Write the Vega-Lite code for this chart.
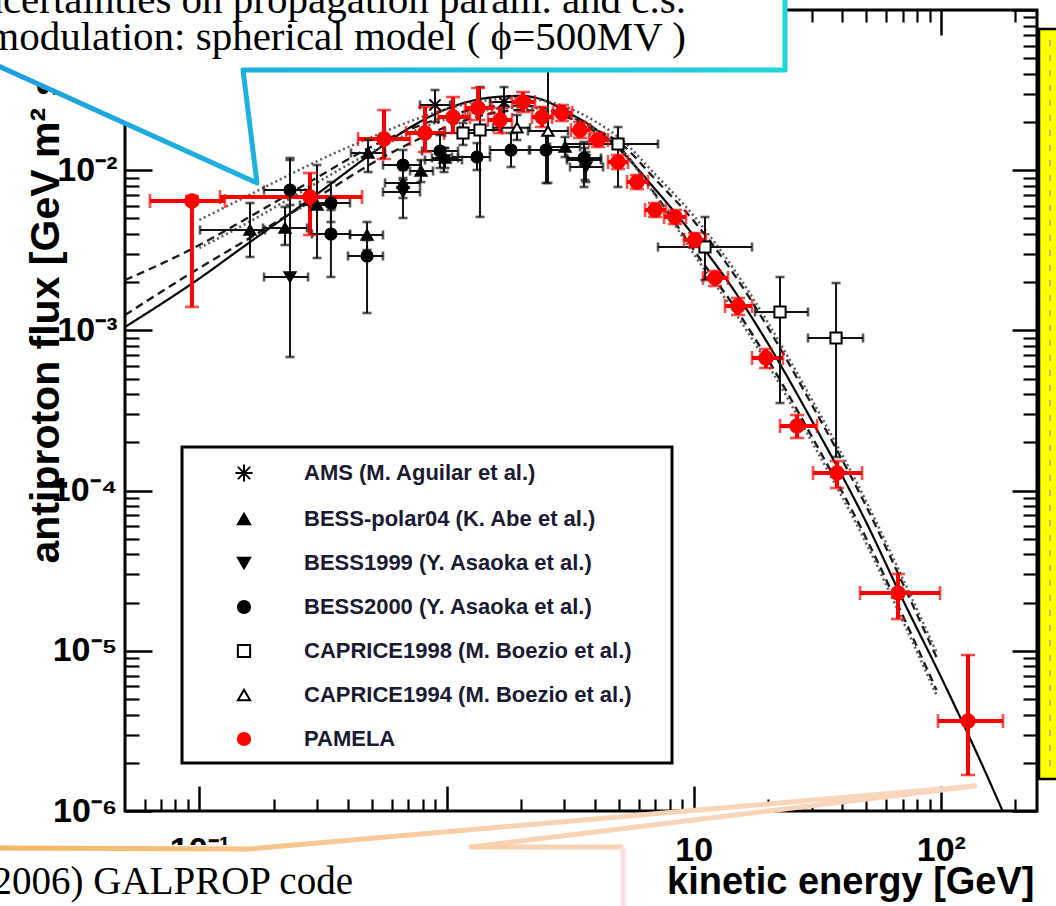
{
  "$schema": "https://vega.github.io/schema/vega-lite/v6.json",
  "width": 912,
  "height": 801,
  "autosize": {"type": "none"},
  "padding": {"left": 125, "top": 10, "right": 19, "bottom": 95},
  "background": "#ffffff",
  "config": {
    "view": {"stroke": "#000000", "strokeWidth": 3},
    "font": "Liberation Sans",
    "axis": {"domain": false, "grid": false, "tickColor": "#000000", "tickWidth": 2.2, "labelColor": "#000000", "titleColor": "#000000"},
    "legend": {"padding": 16, "rowPadding": 22, "symbolOffset": 35, "labelOffset": 49, "labelFont": "Liberation Sans", "labelFontWeight": "bold", "labelFontSize": 22, "labelColor": "#1a1a33", "labelLimit": 600, "symbolSize": 150, "symbolStrokeWidth": 2}
  },
  "datasets": {
    "pts": [
      {"s": "BESS-polar04 (K. Abe et al.)", "e": 0.1602, "elo": 0.1006, "ehi": 0.1843, "f": 0.004233, "flo": 0.002872, "fhi": 0.006241},
      {"s": "BESS-polar04 (K. Abe et al.)", "e": 0.222, "elo": 0.1809, "ehi": 0.2726, "f": 0.004357, "flo": 0.003413, "fhi": 0.005893},
      {"s": "BESS-polar04 (K. Abe et al.)", "e": 0.2991, "elo": 0.2554, "ehi": 0.3537, "f": 0.006065, "flo": 0.002831, "fhi": 0.01078},
      {"s": "BESS-polar04 (K. Abe et al.)", "e": 0.4768, "elo": 0.4068, "ehi": 0.5532, "f": 0.00394, "flo": 0.003176, "fhi": 0.00475},
      {"s": "BESS-polar04 (K. Abe et al.)", "e": 0.4813, "elo": 0.4107, "ehi": 0.5636, "f": 0.01281, "flo": 0.00974, "fhi": 0.01543},
      {"s": "BESS-polar04 (K. Abe et al.)", "e": 0.6667, "elo": 0.5636, "ehi": 0.781, "f": 0.00832, "flo": 0.006706, "fhi": 0.01003},
      {"s": "BESS-polar04 (K. Abe et al.)", "e": 0.7882, "elo": 0.7115, "ehi": 0.8816, "f": 0.009886, "flo": 0.00844, "fhi": 0.01158},
      {"s": "BESS-polar04 (K. Abe et al.)", "e": 0.9858, "elo": 0.8733, "ehi": 1.113, "f": 0.01192, "flo": 0.01032, "fhi": 0.01376},
      {"s": "BESS-polar04 (K. Abe et al.)", "e": 3.016, "elo": 2.623, "ehi": 3.468, "f": 0.01396, "flo": 0.01209, "fhi": 0.01611},
      {"s": "BESS1999 (Y. Asaoka et al.)", "e": 0.2326, "elo": 0.1826, "ehi": 0.2752, "f": 0.002154, "flo": 0.0006823, "fhi": 0.01192},
      {"s": "BESS1999 (Y. Asaoka et al.)", "e": 0.6667, "elo": 0.5532, "ehi": 0.781, "f": 0.00731, "flo": 0.00503, "fhi": 0.00894},
      {"s": "BESS1999 (Y. Asaoka et al.)", "e": 0.9768, "elo": 0.818, "ehi": 1.155, "f": 0.01158, "flo": 0.00974, "fhi": 0.01376},
      {"s": "BESS1999 (Y. Asaoka et al.)", "e": 3.667, "elo": 3.159, "ehi": 4.297, "f": 0.01047, "flo": 0.00844, "fhi": 0.01299},
      {"s": "BESS2000 (Y. Asaoka et al.)", "e": 0.2326, "elo": 0.1826, "ehi": 0.2777, "f": 0.00752, "flo": 0.006065, "fhi": 0.01158},
      {"s": "BESS2000 (Y. Asaoka et al.)", "e": 0.3406, "elo": 0.2777, "ehi": 0.4068, "f": 0.006241, "flo": 0.00475, "fhi": 0.00844},
      {"s": "BESS2000 (Y. Asaoka et al.)", "e": 0.3406, "elo": 0.2856, "ehi": 0.4068, "f": 0.003997, "flo": 0.002154, "fhi": 0.005644},
      {"s": "BESS2000 (Y. Asaoka et al.)", "e": 0.4768, "elo": 0.3993, "ehi": 0.5532, "f": 0.002913, "flo": 0.001284, "fhi": 0.003666},
      {"s": "BESS2000 (Y. Asaoka et al.)", "e": 0.6667, "elo": 0.5532, "ehi": 0.781, "f": 0.01078, "flo": 0.008687, "fhi": 0.01337},
      {"s": "BESS2000 (Y. Asaoka et al.)", "e": 0.941, "elo": 0.796, "ehi": 1.113, "f": 0.01318, "flo": 0.01032, "fhi": 0.01658},
      {"s": "BESS2000 (Y. Asaoka et al.)", "e": 1.328, "elo": 1.052, "ehi": 1.499, "f": 0.01209, "flo": 0.01003, "fhi": 0.01478},
      {"s": "BESS2000 (Y. Asaoka et al.)", "e": 1.823, "elo": 1.499, "ehi": 2.157, "f": 0.01337, "flo": 0.01047, "fhi": 0.01707},
      {"s": "BESS2000 (Y. Asaoka et al.)", "e": 2.526, "elo": 2.177, "ehi": 3.016, "f": 0.01337, "flo": 0.00832, "fhi": 0.01658},
      {"s": "BESS2000 (Y. Asaoka et al.)", "e": 3.6, "elo": 3.073, "ehi": 4.217, "f": 0.01192, "flo": 0.007855, "fhi": 0.015},
      {"s": "CAPRICE1994 (M. Boezio et al.)", "e": 2.573, "elo": 2.136, "ehi": 3.101, "f": 0.01757, "flo": 0.00832, "fhi": 0.04736},
      {"s": "CAPRICE1994 (M. Boezio et al.)", "e": 1.928, "elo": 1.542, "ehi": 2.177, "f": 0.01844, "flo": 0.01543, "fhi": 0.02211},
      {"s": "AMS (M. Aguilar et al.)", "e": 0.8984, "elo": 0.781, "ehi": 1.033, "f": 0.02553, "flo": 0.01999, "fhi": 0.03167},
      {"s": "AMS (M. Aguilar et al.)", "e": 1.708, "elo": 1.499, "ehi": 1.983, "f": 0.02665, "flo": 0.02058, "fhi": 0.03306},
      {"s": "AMS (M. Aguilar et al.)", "e": 3.633, "elo": 3.073, "ehi": 4.217, "f": 0.01158, "flo": 0.008687, "fhi": 0.01376},
      {"s": "CAPRICE1998 (M. Boezio et al.)", "e": 1.166, "elo": 0.9858, "ehi": 1.366, "f": 0.01707, "flo": 0.01437, "fhi": 0.01971},
      {"s": "CAPRICE1998 (M. Boezio et al.)", "e": 1.366, "elo": 1.134, "ehi": 1.677, "f": 0.01782, "flo": 0.005104, "fhi": 0.03306},
      {"s": "CAPRICE1998 (M. Boezio et al.)", "e": 4.941, "elo": 3.016, "ehi": 7.173, "f": 0.01457, "flo": 0.007855, "fhi": 0.01861},
      {"s": "CAPRICE1998 (M. Boezio et al.)", "e": 11.11, "elo": 7.173, "ehi": 17.22, "f": 0.003316, "flo": 0.002063, "fhi": 0.005104},
      {"s": "CAPRICE1998 (M. Boezio et al.)", "e": 22.35, "elo": 17.71, "ehi": 29.01, "f": 0.001303, "flo": 0.0003522, "fhi": 0.002154},
      {"s": "CAPRICE1998 (M. Boezio et al.)", "e": 37.67, "elo": 29.01, "ehi": 48.44, "f": 0.0008965, "flo": 0.0001621, "fhi": 0.001976},
      {"s": "PAMELA", "e": 0.0933, "elo": 0.0631, "ehi": 0.1269, "f": 0.00642, "flo": 0.0014, "fhi": 0.0069},
      {"s": "PAMELA", "e": 0.2803, "elo": 0.1212, "ehi": 0.455, "f": 0.0068, "flo": 0.00394, "fhi": 0.00961},
      {"s": "PAMELA", "e": 0.5585, "elo": 0.4384, "ehi": 0.7115, "f": 0.01566, "flo": 0.01175, "fhi": 0.02375},
      {"s": "PAMELA", "e": 0.818, "elo": 0.6855, "ehi": 0.977, "f": 0.01707, "flo": 0.01299, "fhi": 0.02481},
      {"s": "PAMELA", "e": 1.062, "elo": 0.9236, "ehi": 1.245, "f": 0.02148, "flo": 0.01707, "fhi": 0.02863},
      {"s": "PAMELA", "e": 1.341, "elo": 1.188, "ehi": 1.528, "f": 0.02445, "flo": 0.02058, "fhi": 0.03259},
      {"s": "PAMELA", "e": 1.646, "elo": 1.472, "ehi": 1.84, "f": 0.02058, "flo": 0.01707, "fhi": 0.02445},
      {"s": "PAMELA", "e": 2.039, "elo": 1.84, "ehi": 2.28, "f": 0.02665, "flo": 0.02308, "fhi": 0.03077},
      {"s": "PAMELA", "e": 2.434, "elo": 2.217, "ehi": 2.672, "f": 0.02148, "flo": 0.01861, "fhi": 0.02481},
      {"s": "PAMELA", "e": 2.933, "elo": 2.697, "ehi": 3.219, "f": 0.02275, "flo": 0.02028, "fhi": 0.02553},
      {"s": "PAMELA", "e": 3.468, "elo": 3.189, "ehi": 3.806, "f": 0.01782, "flo": 0.01589, "fhi": 0.01999},
      {"s": "PAMELA", "e": 4.102, "elo": 3.771, "ehi": 4.502, "f": 0.01543, "flo": 0.01396, "fhi": 0.01707},
      {"s": "PAMELA", "e": 4.941, "elo": 4.502, "ehi": 5.424, "f": 0.01125, "flo": 0.01017, "fhi": 0.01244},
      {"s": "PAMELA", "e": 5.898, "elo": 5.373, "ehi": 6.535, "f": 0.00844, "flo": 0.00763, "fhi": 0.00933},
      {"s": "PAMELA", "e": 6.975, "elo": 6.355, "ehi": 7.727, "f": 0.005644, "flo": 0.005104, "fhi": 0.006241},
      {"s": "PAMELA", "e": 8.404, "elo": 7.586, "ehi": 9.311, "f": 0.005104, "flo": 0.004615, "fhi": 0.005644},
      {"s": "PAMELA", "e": 10.12, "elo": 9.14, "ehi": 11.22, "f": 0.003666, "flo": 0.003316, "fhi": 0.004055},
      {"s": "PAMELA", "e": 12.2, "elo": 10.91, "ehi": 13.77, "f": 0.002126, "flo": 0.001893, "fhi": 0.002349},
      {"s": "PAMELA", "e": 15.12, "elo": 13.39, "ehi": 17.22, "f": 0.00142, "flo": 0.001248, "fhi": 0.001593},
      {"s": "PAMELA", "e": 19.62, "elo": 17.22, "ehi": 22.99, "f": 0.0006725, "flo": 0.0005825, "fhi": 0.0007655},
      {"s": "PAMELA", "e": 26.19, "elo": 22.35, "ehi": 31.55, "f": 0.000253, "flo": 0.000213, "fhi": 0.0002964},
      {"s": "PAMELA", "e": 38.02, "elo": 30.4, "ehi": 47.99, "f": 0.0001288, "flo": 0.0001038, "fhi": 0.000153},
      {"s": "PAMELA", "e": 67.11, "elo": 47.1, "ehi": 99.24, "f": 0.00002295, "flo": 0.00001579, "fhi": 0.00003016},
      {"s": "PAMELA", "e": 128.8, "elo": 97.41, "ehi": 178.5, "f": 0.000003645, "flo": 0.000001678, "fhi": 0.00000941}
    ],
    "curves": [
      {"c": "solid", "e": 0.05, "f": 0.00105}, {"c": "solid", "e": 0.1, "f": 0.00211}, {"c": "solid", "e": 0.15, "f": 0.00331}, {"c": "solid", "e": 0.2, "f": 0.00454}, {"c": "solid", "e": 0.3, "f": 0.00712}, {"c": "solid", "e": 0.5, "f": 0.01277}, {"c": "solid", "e": 0.7, "f": 0.01818}, {"c": "solid", "e": 1, "f": 0.0241}, {"c": "solid", "e": 1.5, "f": 0.0284}, {"c": "solid", "e": 2, "f": 0.0291}, {"c": "solid", "e": 2.5, "f": 0.0272}, {"c": "solid", "e": 3, "f": 0.0235}, {"c": "solid", "e": 4, "f": 0.0181}, {"c": "solid", "e": 5, "f": 0.0135}, {"c": "solid", "e": 7, "f": 0.00758}, {"c": "solid", "e": 10, "f": 0.0039}, {"c": "solid", "e": 15, "f": 0.001663}, {"c": "solid", "e": 20, "f": 0.000825}, {"c": "solid", "e": 30, "f": 0.000275}, {"c": "solid", "e": 50, "f": 0.000063}, {"c": "solid", "e": 70, "f": 0.000021}, {"c": "solid", "e": 100, "f": 0.0000069}, {"c": "solid", "e": 150, "f": 0.00000181}, {"c": "solid", "e": 200, "f": 0.000000659},
      {"c": "dash1", "e": 0.05, "f": 0.00206}, {"c": "dash1", "e": 0.1, "f": 0.00341}, {"c": "dash1", "e": 0.15, "f": 0.00484}, {"c": "dash1", "e": 0.2, "f": 0.00625}, {"c": "dash1", "e": 0.3, "f": 0.00902}, {"c": "dash1", "e": 0.5, "f": 0.0141}, {"c": "dash1", "e": 0.7, "f": 0.01785}, {"c": "dash1", "e": 1, "f": 0.0217}, {"c": "dash1", "e": 1.5, "f": 0.0249}, {"c": "dash1", "e": 2, "f": 0.0253}, {"c": "dash1", "e": 2.5, "f": 0.0243}, {"c": "dash1", "e": 3, "f": 0.0224}, {"c": "dash1", "e": 4, "f": 0.018}, {"c": "dash1", "e": 5, "f": 0.0149}, {"c": "dash1", "e": 7, "f": 0.00875}, {"c": "dash1", "e": 10, "f": 0.00483}, {"c": "dash1", "e": 15, "f": 0.002094}, {"c": "dash1", "e": 20, "f": 0.001038}, {"c": "dash1", "e": 30, "f": 0.000346}, {"c": "dash1", "e": 50, "f": 0.0000793}, {"c": "dash1", "e": 70, "f": 0.00002646}, {"c": "dash1", "e": 96, "f": 0.00000915},
      {"c": "dash2", "e": 0.05, "f": 0.001248}, {"c": "dash2", "e": 0.1, "f": 0.002452}, {"c": "dash2", "e": 0.15, "f": 0.003558}, {"c": "dash2", "e": 0.2, "f": 0.004648}, {"c": "dash2", "e": 0.3, "f": 0.006773}, {"c": "dash2", "e": 0.5, "f": 0.01104}, {"c": "dash2", "e": 0.7, "f": 0.01455}, {"c": "dash2", "e": 1, "f": 0.01863}, {"c": "dash2", "e": 1.5, "f": 0.02259}, {"c": "dash2", "e": 2, "f": 0.02375}, {"c": "dash2", "e": 2.5, "f": 0.02331}, {"c": "dash2", "e": 3, "f": 0.0217}, {"c": "dash2", "e": 4, "f": 0.01744}, {"c": "dash2", "e": 5, "f": 0.01386}, {"c": "dash2", "e": 7, "f": 0.007052}, {"c": "dash2", "e": 10, "f": 0.003185}, {"c": "dash2", "e": 15, "f": 0.001322}, {"c": "dash2", "e": 20, "f": 0.0006554}, {"c": "dash2", "e": 30, "f": 0.0002186}, {"c": "dash2", "e": 50, "f": 0.0000501}, {"c": "dash2", "e": 70, "f": 0.0000167}, {"c": "dash2", "e": 96, "f": 0.000005692},
      {"c": "dot1", "e": 0.1, "f": 0.004888}, {"c": "dot1", "e": 0.15, "f": 0.006695}, {"c": "dot1", "e": 0.2, "f": 0.008368}, {"c": "dot1", "e": 0.3, "f": 0.0114}, {"c": "dot1", "e": 0.5, "f": 0.01614}, {"c": "dot1", "e": 0.7, "f": 0.01996}, {"c": "dot1", "e": 1, "f": 0.02403}, {"c": "dot1", "e": 1.5, "f": 0.0275}, {"c": "dot1", "e": 2, "f": 0.02819}, {"c": "dot1", "e": 2.5, "f": 0.02707}, {"c": "dot1", "e": 3, "f": 0.02505}, {"c": "dot1", "e": 4, "f": 0.02014}, {"c": "dot1", "e": 5, "f": 0.01593}, {"c": "dot1", "e": 7, "f": 0.0094}, {"c": "dot1", "e": 10, "f": 0.005193}, {"c": "dot1", "e": 15, "f": 0.002249}, {"c": "dot1", "e": 20, "f": 0.001115}, {"c": "dot1", "e": 30, "f": 0.000372}, {"c": "dot1", "e": 50, "f": 0.0000852}, {"c": "dot1", "e": 70, "f": 0.00002843}, {"c": "dot1", "e": 96, "f": 0.00000983},
      {"c": "dot2", "e": 0.1, "f": 0.003268}, {"c": "dot2", "e": 0.15, "f": 0.00453}, {"c": "dot2", "e": 0.2, "f": 0.005817}, {"c": "dot2", "e": 0.3, "f": 0.00838}, {"c": "dot2", "e": 0.5, "f": 0.01306}, {"c": "dot2", "e": 0.7, "f": 0.0169}, {"c": "dot2", "e": 1, "f": 0.02082}, {"c": "dot2", "e": 1.5, "f": 0.02389}, {"c": "dot2", "e": 2, "f": 0.0247}, {"c": "dot2", "e": 2.5, "f": 0.02399}, {"c": "dot2", "e": 3, "f": 0.0223}, {"c": "dot2", "e": 4, "f": 0.01792}, {"c": "dot2", "e": 5, "f": 0.0138}, {"c": "dot2", "e": 7, "f": 0.00695}, {"c": "dot2", "e": 10, "f": 0.003007}, {"c": "dot2", "e": 15, "f": 0.00123}, {"c": "dot2", "e": 20, "f": 0.0006099}, {"c": "dot2", "e": 30, "f": 0.0002034}, {"c": "dot2", "e": 50, "f": 0.00004661}, {"c": "dot2", "e": 70, "f": 0.00001554}, {"c": "dot2", "e": 96, "f": 0.0000053}
    ],
    "tri": [
      {"g": "t", "e": 0.0167, "f": 0.042203, "f2": 0.042203},
      {"g": "t", "e": 0.15012, "f": 0.042203, "f2": 0.0091127},
      {"g": "t", "e": 0.17105, "f": 0.0083213, "f2": 0.0083213},
      {"g": "b", "e": 0.15876, "f": 0.00000057912, "f2": 0.00000057912},
      {"g": "b", "e": 1.2561, "f": 0.00000076432, "f2": 0.00000059599},
      {"g": "b", "e": 137.48, "f": 0.0000014324, "f2": 0.0000014324}
    ],
    "cyan": [
      {"i": 0, "e": 0.014214, "f": 0.047222},
      {"i": 1, "e": 0.17105, "f": 0.0083213},
      {"i": 2, "e": 0.15012, "f": 0.042203},
      {"i": 3, "e": 23.418, "f": 0.042203},
      {"i": 4, "e": 23.418, "f": 0.13333}
    ],
    "orange": [
      {"i": 0, "e": 0.01489, "f": 0.00000058749},
      {"i": 1, "e": 0.15876, "f": 0.00000057912},
      {"i": 2, "e": 137.48, "f": 0.0000014324},
      {"i": 3, "e": 1.2561, "f": 0.00000059599},
      {"i": 4, "e": 5.1764, "f": 0.00000059599}
    ],
    "notes": [
      {"t": "uncertainties on propagation param. and c.s.", "e": 9.3097, "f": 0.09578},
      {"t": "modulation: spherical model ( ϕ=500MV )", "e": 9.3097, "f": 0.056275}
    ]
  },
  "resolve": {"axis": {"x": "independent", "y": "independent"}},
  "layer": [
    {
      "data": {"name": "curves"},
      "mark": {"type": "line", "clip": true, "interpolate": "monotone"},
      "encoding": {
        "x": {"field": "e", "type": "quantitative", "scale": {"type": "log", "domain": [0.05, 245], "nice": false},
          "axis": {"orient": "bottom", "values": [0.1, 1, 10, 100], "ticks": false, "labelExpr": "datum.value < 0.5 ? '10⁻¹' : datum.value < 5 ? '1' : datum.value < 50 ? '10' : '10²'", "labelFont": "Liberation Sans", "labelFontWeight": "bold", "labelFontSize": 34, "labelPadding": 22, "labelFlush": false, "labelOverlap": false, "labelBound": false,
            "title": "kinetic energy [GeV]", "titleFont": "Liberation Sans", "titleFontWeight": "bold", "titleFontSize": 38, "titleAnchor": "end", "titleAlign": "right", "titleBaseline": "alphabetic", "titleX": 909, "titleY": 82}},
        "y": {"field": "f", "type": "quantitative", "scale": {"type": "log", "domain": [0.000001, 0.1], "nice": false},
          "axis": {"orient": "left", "values": [0.000001, 0.00001, 0.0001, 0.001, 0.01], "ticks": false, "labelExpr": "datum.value < 5e-6 ? '10⁻⁶' : datum.value < 5e-5 ? '10⁻⁵' : datum.value < 5e-4 ? '10⁻⁴' : datum.value < 5e-3 ? '10⁻³' : '10⁻²'", "labelFont": "Liberation Sans", "labelFontWeight": "bold", "labelFontSize": 34, "labelPadding": 8, "labelOverlap": false, "labelBound": false,
            "title": "antiproton flux [GeV m² s sr]⁻¹", "titleFont": "Liberation Sans", "titleFontWeight": "bold", "titleFontSize": 41, "titleAngle": 270, "titleAlign": "left", "titleBaseline": "alphabetic", "titleX": -67, "titleY": 553}},
        "detail": {"field": "c"},
        "color": {"field": "c", "type": "nominal", "scale": {"domain": ["solid", "dash1", "dash2", "dot1", "dot2"], "range": ["#000000", "#1a1a1a", "#1a1a1a", "#5a5a5a", "#5a5a5a"]}, "legend": null},
        "strokeDash": {"field": "c", "type": "nominal", "scale": {"domain": ["solid", "dash1", "dash2", "dot1", "dot2"], "range": [[1, 0], [8, 5], [8, 5], [2, 3], [2, 3]]}, "legend": null},
        "strokeWidth": {"field": "c", "type": "nominal", "scale": {"domain": ["solid", "dash1", "dash2", "dot1", "dot2"], "range": [2.2, 2.6, 2.6, 2.6, 2.6]}, "legend": null}
      }
    },
    {
      "data": {"name": "pts"},
      "mark": {"type": "rule"},
      "encoding": {
        "x": {"field": "elo", "type": "quantitative", "scale": {"type": "log", "domain": [0.05, 245], "nice": false},
          "axis": {"orient": "bottom", "values": [0.1, 1, 10, 100], "labels": false, "tickSize": -25, "tickWidth": 2.5, "title": null}},
        "x2": {"field": "ehi"},
        "y": {"field": "f", "type": "quantitative", "scale": {"type": "log", "domain": [0.000001, 0.1], "nice": false},
          "axis": {"orient": "left", "values": [0.000001, 0.00001, 0.0001, 0.001, 0.01, 0.1], "labels": false, "tickSize": -27, "tickWidth": 2.5, "title": null}},
        "color": {"condition": {"test": "datum.s === 'PAMELA'", "value": "#ff0000"}, "value": "#111111"},
        "strokeWidth": {"condition": {"test": "datum.s === 'PAMELA'", "value": 4}, "value": 2}
      }
    },
    {
      "data": {"name": "pts"},
      "mark": {"type": "rule"},
      "encoding": {
        "x": {"field": "e", "type": "quantitative", "scale": {"type": "log", "domain": [0.05, 245], "nice": false},
          "axis": {"orient": "bottom", "values": [0.06, 0.07, 0.08, 0.09, 0.2, 0.3, 0.4, 0.5, 0.6, 0.7, 0.8, 0.9, 2, 3, 4, 5, 6, 7, 8, 9, 20, 30, 40, 50, 60, 70, 80, 90, 200], "labels": false, "tickSize": -12, "tickWidth": 2.2, "title": null}},
        "y": {"field": "flo", "type": "quantitative", "scale": {"type": "log", "domain": [0.000001, 0.1], "nice": false},
          "axis": {"orient": "left", "values": [0.000002, 0.000003, 0.000004, 0.000005, 0.000006, 0.000007, 0.000008, 0.000009, 0.00002, 0.00003, 0.00004, 0.00005, 0.00006, 0.00007, 0.00008, 0.00009, 0.0002, 0.0003, 0.0004, 0.0005, 0.0006, 0.0007, 0.0008, 0.0009, 0.002, 0.003, 0.004, 0.005, 0.006, 0.007, 0.008, 0.009, 0.02, 0.03, 0.04, 0.05, 0.06, 0.07, 0.08, 0.09], "labels": false, "tickSize": -14, "tickWidth": 2.2, "title": null}},
        "y2": {"field": "fhi"},
        "color": {"condition": {"test": "datum.s === 'PAMELA'", "value": "#ff0000"}, "value": "#111111"},
        "strokeWidth": {"condition": {"test": "datum.s === 'PAMELA'", "value": 4}, "value": 2}
      }
    },
    {
      "data": {"name": "pts"},
      "mark": {"type": "tick", "orient": "vertical", "thickness": 2.6},
      "encoding": {
        "x": {"field": "elo", "type": "quantitative", "scale": {"type": "log", "domain": [0.05, 245], "nice": false},
          "axis": {"orient": "top", "values": [0.1, 1, 10, 100], "labels": false, "tickSize": -25, "tickWidth": 2.5, "title": null}},
        "y": {"field": "f", "type": "quantitative", "scale": {"type": "log", "domain": [0.000001, 0.1], "nice": false},
          "axis": {"orient": "right", "values": [0.000001, 0.00001, 0.0001, 0.001, 0.01, 0.1], "labels": false, "tickSize": -25, "tickWidth": 2.5, "title": null}},
        "color": {"condition": {"test": "datum.s === 'PAMELA'", "value": "#ff0000"}, "value": "#111111"},
        "size": {"condition": {"test": "datum.s === 'PAMELA'", "value": 14}, "value": 9}
      }
    },
    {
      "data": {"name": "pts"},
      "mark": {"type": "tick", "orient": "vertical", "thickness": 2.6},
      "encoding": {
        "x": {"field": "ehi", "type": "quantitative", "scale": {"type": "log", "domain": [0.05, 245], "nice": false},
          "axis": {"orient": "top", "values": [0.06, 0.07, 0.08, 0.09, 0.2, 0.3, 0.4, 0.5, 0.6, 0.7, 0.8, 0.9, 2, 3, 4, 5, 6, 7, 8, 9, 20, 30, 40, 50, 60, 70, 80, 90, 200], "labels": false, "tickSize": -12, "tickWidth": 2.2, "title": null}},
        "y": {"field": "f", "type": "quantitative", "scale": {"type": "log", "domain": [0.000001, 0.1], "nice": false},
          "axis": {"orient": "right", "values": [0.000002, 0.000003, 0.000004, 0.000005, 0.000006, 0.000007, 0.000008, 0.000009, 0.00002, 0.00003, 0.00004, 0.00005, 0.00006, 0.00007, 0.00008, 0.00009, 0.0002, 0.0003, 0.0004, 0.0005, 0.0006, 0.0007, 0.0008, 0.0009, 0.002, 0.003, 0.004, 0.005, 0.006, 0.007, 0.008, 0.009, 0.02, 0.03, 0.04, 0.05, 0.06, 0.07, 0.08, 0.09], "labels": false, "tickSize": -14, "tickWidth": 2.2, "title": null}},
        "color": {"condition": {"test": "datum.s === 'PAMELA'", "value": "#ff0000"}, "value": "#111111"},
        "size": {"condition": {"test": "datum.s === 'PAMELA'", "value": 14}, "value": 9}
      }
    },
    {
      "data": {"name": "pts"},
      "mark": {"type": "tick", "orient": "horizontal", "thickness": 2.6},
      "encoding": {
        "x": {"field": "e", "type": "quantitative", "axis": null},
        "y": {"field": "flo", "type": "quantitative", "axis": null},
        "color": {"condition": {"test": "datum.s === 'PAMELA'", "value": "#ff0000"}, "value": "#111111"},
        "size": {"condition": {"test": "datum.s === 'PAMELA'", "value": 14}, "value": 9}
      }
    },
    {
      "data": {"name": "pts"},
      "mark": {"type": "tick", "orient": "horizontal", "thickness": 2.6},
      "encoding": {
        "x": {"field": "e", "type": "quantitative", "axis": null},
        "y": {"field": "fhi", "type": "quantitative", "axis": null},
        "color": {"condition": {"test": "datum.s === 'PAMELA'", "value": "#ff0000"}, "value": "#111111"},
        "size": {"condition": {"test": "datum.s === 'PAMELA'", "value": 14}, "value": 9}
      }
    },
    {
      "data": {"name": "pts"},
      "transform": [{"filter": "datum.s !== 'PAMELA'"}],
      "mark": {"type": "point", "filled": true, "strokeWidth": 2, "opacity": 1, "size": 125},
      "encoding": {
        "x": {"field": "e", "type": "quantitative", "axis": null},
        "y": {"field": "f", "type": "quantitative", "axis": null},
        "shape": {"field": "s", "type": "nominal",
          "scale": {"domain": ["AMS (M. Aguilar et al.)", "BESS-polar04 (K. Abe et al.)", "BESS1999 (Y. Asaoka et al.)", "BESS2000 (Y. Asaoka et al.)", "CAPRICE1998 (M. Boezio et al.)", "CAPRICE1994 (M. Boezio et al.)", "PAMELA"],
            "range": ["M-1.4,0L1.4,0M0,-1.4L0,1.4M-1,-1L1,1M-1,1L1,-1", "triangle-up", "triangle-down", "circle", "square", "triangle-up", "circle"]},
          "legend": {"title": null, "orient": "none", "legendX": 57, "legendY": 436}},
        "fill": {"field": "s", "type": "nominal",
          "scale": {"domain": ["AMS (M. Aguilar et al.)", "BESS-polar04 (K. Abe et al.)", "BESS1999 (Y. Asaoka et al.)", "BESS2000 (Y. Asaoka et al.)", "CAPRICE1998 (M. Boezio et al.)", "CAPRICE1994 (M. Boezio et al.)", "PAMELA"],
            "range": ["#000000", "#000000", "#000000", "#000000", "#ffffff", "#ffffff", "#ff0000"]},
          "legend": {"title": null, "orient": "none", "legendX": 57, "legendY": 436}},
        "stroke": {"field": "s", "type": "nominal",
          "scale": {"domain": ["AMS (M. Aguilar et al.)", "BESS-polar04 (K. Abe et al.)", "BESS1999 (Y. Asaoka et al.)", "BESS2000 (Y. Asaoka et al.)", "CAPRICE1998 (M. Boezio et al.)", "CAPRICE1994 (M. Boezio et al.)", "PAMELA"],
            "range": ["#000000", "#000000", "#000000", "#000000", "#000000", "#000000", "#ff0000"]},
          "legend": {"title": null, "orient": "none", "legendX": 57, "legendY": 436}}
      }
    },
    {
      "data": {"name": "pts"},
      "transform": [{"filter": "datum.s === 'PAMELA'"}],
      "mark": {"type": "point", "filled": true, "strokeWidth": 2, "opacity": 1, "size": 180},
      "encoding": {
        "x": {"field": "e", "type": "quantitative", "axis": null},
        "y": {"field": "f", "type": "quantitative", "axis": null},
        "shape": {"field": "s", "type": "nominal", "legend": {"title": null, "orient": "none", "legendX": 57, "legendY": 436}},
        "fill": {"field": "s", "type": "nominal", "legend": {"title": null, "orient": "none", "legendX": 57, "legendY": 436}},
        "stroke": {"field": "s", "type": "nominal", "legend": {"title": null, "orient": "none", "legendX": 57, "legendY": 436}}
      }
    },
    {
      "data": {"values": [
        {"x1": 0.014214, "x2": 23.418, "y1": 0.13333, "y2": 0.042203},
        {"x1": 0.014214, "x2": 5.1764, "y1": 0.00000061336, "y2": 0.00000020869}
      ]},
      "mark": {"type": "rect", "fill": "#ffffff", "strokeWidth": 0},
      "encoding": {
        "x": {"field": "x1", "type": "quantitative", "axis": null},
        "x2": {"field": "x2"},
        "y": {"field": "y1", "type": "quantitative", "axis": null},
        "y2": {"field": "y2"}
      }
    },
    {
      "data": {"name": "tri"},
      "mark": {"type": "area", "fill": "#ffffff", "opacity": 1},
      "encoding": {
        "x": {"field": "e", "type": "quantitative", "axis": null},
        "y": {"field": "f", "type": "quantitative", "axis": null},
        "y2": {"field": "f2"},
        "detail": {"field": "g"}
      }
    },
    {
      "data": {"values": [{"x1": 249.63, "x2": 349.15, "y1": 0.076097, "y2": 0.0000015839}]},
      "mark": {"type": "rect", "fill": "#ffff00", "stroke": "#000000", "strokeWidth": 2.5},
      "encoding": {
        "x": {"field": "x1", "type": "quantitative", "axis": null},
        "x2": {"field": "x2"},
        "y": {"field": "y1", "type": "quantitative", "axis": null},
        "y2": {"field": "y2"}
      }
    },
    {
      "data": {"values": [{"e": 276.56, "f": 0.06498, "f2": 0.0000018029}]},
      "mark": {"type": "rule", "stroke": "#a8a890", "strokeWidth": 1.5, "strokeDash": [6, 9]},
      "encoding": {
        "x": {"field": "e", "type": "quantitative", "axis": null},
        "y": {"field": "f", "type": "quantitative", "axis": null},
        "y2": {"field": "f2"}
      }
    },
    {
      "data": {"values": [{"x1": 0.085046, "x2": 8.1716, "y1": 0.00018717, "y2": 0.0000019935}]},
      "mark": {"type": "rect", "fill": "transparent", "stroke": "#000000", "strokeWidth": 3},
      "encoding": {
        "x": {"field": "x1", "type": "quantitative", "axis": null},
        "x2": {"field": "x2"},
        "y": {"field": "y1", "type": "quantitative", "axis": null},
        "y2": {"field": "y2"}
      }
    },
    {
      "data": {"name": "cyan"},
      "mark": {"type": "line", "strokeWidth": 5, "strokeJoin": "round", "stroke": {"gradient": "linear", "x1": 0, "y1": 0, "x2": 1, "y2": 0, "stops": [{"offset": 0, "color": "#1c9fe0"}, {"offset": 1, "color": "#1fd6d8"}]}},
      "encoding": {
        "x": {"field": "e", "type": "quantitative", "axis": null},
        "y": {"field": "f", "type": "quantitative", "axis": null},
        "order": {"field": "i", "type": "quantitative"}
      }
    },
    {
      "data": {"name": "orange"},
      "mark": {"type": "line", "strokeWidth": 5, "strokeJoin": "round", "stroke": {"gradient": "linear", "x1": 0, "y1": 0, "x2": 1, "y2": 0, "stops": [{"offset": 0, "color": "#f6b55f"}, {"offset": 0.55, "color": "#f9d2b2"}, {"offset": 1, "color": "#f9d6bd"}]}},
      "encoding": {
        "x": {"field": "e", "type": "quantitative", "axis": null},
        "y": {"field": "f", "type": "quantitative", "axis": null},
        "order": {"field": "i", "type": "quantitative"}
      }
    },
    {
      "data": {"values": [{"e": 5.1764, "f": 0.00000059599, "f2": 0.00000022431}]},
      "mark": {"type": "rule", "stroke": "#fcdfe0", "strokeWidth": 5},
      "encoding": {
        "x": {"field": "e", "type": "quantitative", "axis": null},
        "y": {"field": "f", "type": "quantitative", "axis": null},
        "y2": {"field": "f2"}
      }
    },
    {
      "data": {"name": "notes"},
      "mark": {"type": "text", "align": "right", "baseline": "alphabetic", "font": "Liberation Serif", "fontSize": 41, "color": "#000000"},
      "encoding": {
        "x": {"field": "e", "type": "quantitative", "axis": null},
        "y": {"field": "f", "type": "quantitative", "axis": null},
        "text": {"field": "t"}
      }
    },
    {
      "data": {"values": [{"t": "(2006) GALPROP code", "e": 0.41823, "f": 0.00000030335}]},
      "mark": {"type": "text", "align": "right", "baseline": "alphabetic", "font": "Liberation Serif", "fontSize": 39, "color": "#000000"},
      "encoding": {
        "x": {"field": "e", "type": "quantitative", "axis": null},
        "y": {"field": "f", "type": "quantitative", "axis": null},
        "text": {"field": "t"}
      }
    }
  ]
}
